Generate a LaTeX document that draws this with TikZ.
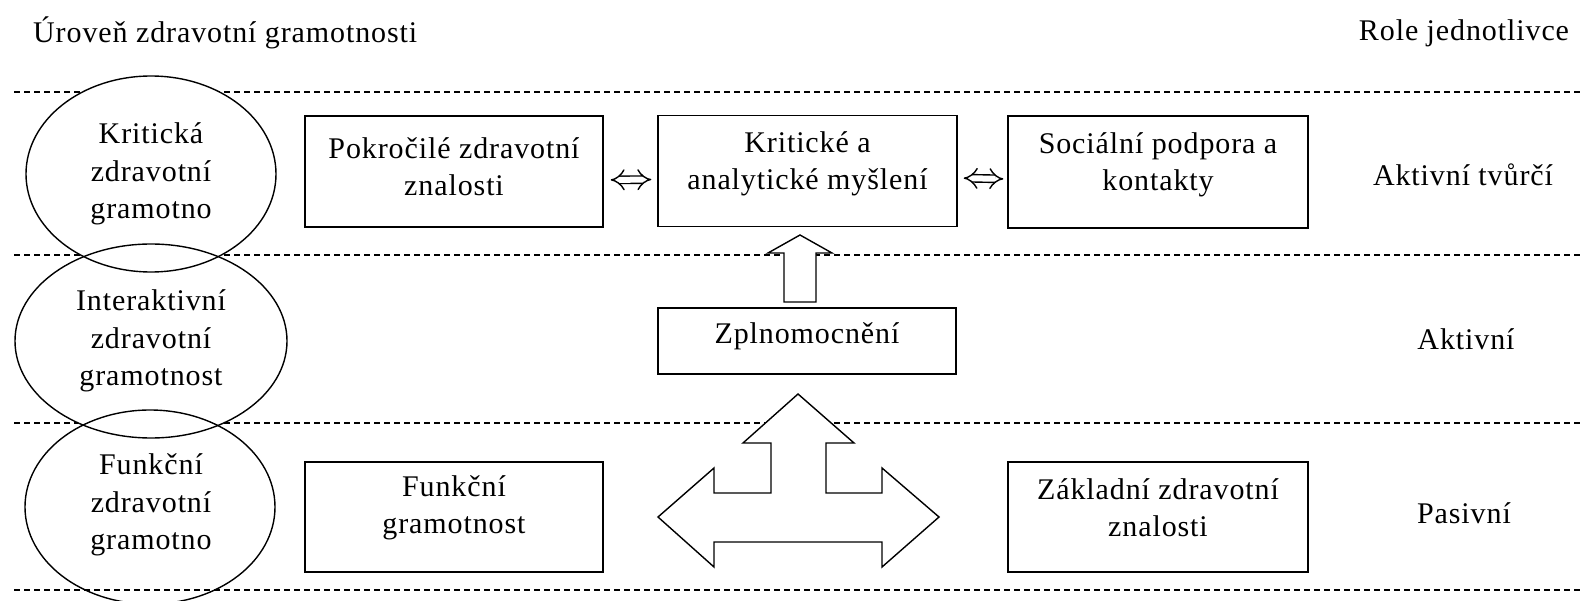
\documentclass[tikz,border=0pt]{standalone}
\usepackage{fontspec}
\setmainfont{Liberation Serif}[LetterSpace=3]
\usetikzlibrary{shapes.geometric,arrows.meta}
\tikzset{
  txt/.style={font=\fontsize{30}{37}\selectfont, align=center, inner sep=0pt},
  box/.style={draw, line width=1.4pt, minimum width=298pt, minimum height=111pt, inner sep=0pt},
  ellip/.style={ellipse, draw, line width=1.4pt, inner sep=0pt, font=\fontsize{30}{37.5}\selectfont, align=center},
  sep/.style={dashed, dash pattern=on 6pt off 4pt, line width=1.2pt},
  dbl/.style={double, double distance=6pt, line width=1.4pt, {Implies}-{Implies}},
  hollow/.style={draw, fill=white, line width=1.4pt, line join=miter},
}
\begin{document}
\begin{tikzpicture}[x=1pt,y=-1pt]
\useasboundingbox (0,0) rectangle (1581,601);
% headings
\node[txt, anchor=west] (hl) at (33,33) {Úroveň zdravotní gramotnosti};
\node[txt] (hr) at (1464,33) {Role jednotlivce};
% separators
\draw[sep] (14,92) -- (1581,92);
\draw[sep] (14,255) -- (1581,255);
\draw[sep] (14,423) -- (1581,423);
% ellipse fills
\fill[white] (151,174) ellipse [x radius=125, y radius=98];
\fill[white] (151,341) ellipse [x radius=136, y radius=97];
\fill[white] (150,507) ellipse [x radius=125, y radius=97];
\draw[sep] (14,590) -- (1581,590);
% ellipses
\node[ellip, minimum width=250pt, minimum height=196pt] (e1) at (151,174) {Kritická\\zdravotní\\gramotno};
\node[ellip, minimum width=272pt, minimum height=194pt] (e2) at (151,341) {Interaktivní\\zdravotní\\gramotnost};
\node[ellip, minimum width=250pt, minimum height=194pt] (e3) at (150,507) {};
\node[txt, font=\fontsize{30}{37.5}\selectfont] (e3t) at (151,505) {Funkční\\zdravotní\\gramotno};
% boxes
\node[box] (b1) at (454,171.5) {};
\node[txt] (t1) at ([yshift=5pt]b1.center) {Pokročilé zdravotní\\znalosti};
\node[box, minimum width=299pt] (b2) at (807.5,171) {};
\node[txt] (t2) at ([yshift=7pt]b2.center) {Kritické a\\analytické myšlení};
\node[box, minimum width=300pt, minimum height=112pt] (b3) at (1158,172) {};
\node[txt] (t3) at ([yshift=7pt]b3.center) {Sociální podpora a\\kontakty};
\node[box, minimum width=298pt, minimum height=66pt] (b4) at (807,341) {};
\node[txt] (t4) at ([yshift=5pt]b4.center) {Zplnomocnění};
\node[box, minimum height=110pt] (b5) at (454,517) {};
\node[txt] (t5) at ([yshift=9pt]b5.center) {Funkční\\gramotnost};
\node[box, minimum width=300pt, minimum height=110pt] (b6) at (1158,517) {};
\node[txt] (t6) at ([yshift=9pt]b6.center) {Základní zdravotní\\znalosti};
% double arrows
\draw[dbl, shorten <=7pt, shorten >=6pt] ([yshift=-8.5pt]b1.east) -- ([yshift=-8.5pt]b2.west);
\draw[dbl, shorten <=6pt, shorten >=4pt] ([yshift=-7pt]b2.east) -- ([yshift=-7pt]b3.west);
% hollow arrows
\draw[hollow] (800,235) -- (832,253) -- (816,253) -- (816,302) -- (784,302) -- (784,253) -- (768,253) -- cycle;
\draw[hollow] (798,394) -- (854,443) -- (826,443) -- (826,493) -- (882,493) -- (882,468) -- (939,517)
  -- (882,567) -- (882,542) -- (714,542) -- (714,567) -- (658,517) -- (714,468) -- (714,493)
  -- (771,493) -- (771,443) -- (743,443) -- cycle;
% roles
\node[txt] (r1) at (1463,175) {Aktivní tvůrčí};
\node[txt] (r2) at (1466,339) {Aktivní};
\node[txt] (r3) at (1464,513) {Pasivní};
\end{tikzpicture}
\end{document}
